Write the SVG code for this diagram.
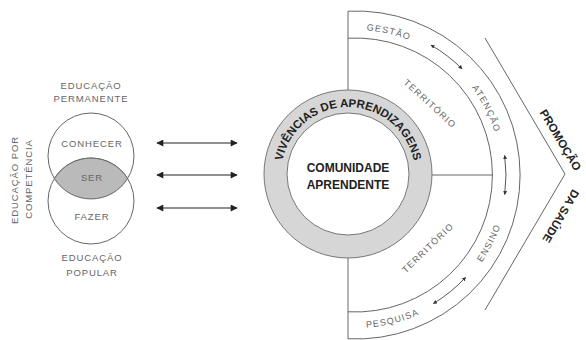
<svg xmlns="http://www.w3.org/2000/svg" width="586" height="340" viewBox="0 0 586 340">
<style>
.lbl{font-family:"Liberation Sans",Arial,sans-serif;font-size:9.5px;fill:#666;letter-spacing:0.9px}
.band{font-family:"Liberation Sans",Arial,sans-serif;font-size:9px;fill:#666;letter-spacing:1.2px}
.bold{font-family:"Liberation Sans",Arial,sans-serif;font-weight:bold;fill:#222}
.ln{fill:none;stroke:#666;stroke-width:1}
.arr{fill:none;stroke:#222;stroke-width:1.2}
.sarr{fill:none;stroke:#444;stroke-width:0.9}
</style>
<defs>
<marker id="ah" viewBox="0 0 10 10" refX="9" refY="5" markerWidth="8" markerHeight="7" markerUnits="userSpaceOnUse" orient="auto-start-reverse"><path d="M0,0 L10,5 L0,10 z" fill="#222"/></marker>
<marker id="sh" viewBox="0 0 10 10" refX="9" refY="5" markerWidth="4" markerHeight="4" markerUnits="userSpaceOnUse" orient="auto-start-reverse"><path d="M0,0 L10,5 L0,10 z" fill="#333"/></marker>
<path id="ringPath" d="M281,174 A67,67 0 0 1 415,174"/>
<path id="topBand" d="M211,175 A145,145 0 0 1 501,175"/>
<path id="botBand" d="M203,175 A153,153 0 0 0 509,175"/>
</defs>
<rect width="586" height="340" fill="#fff"/>

<g id="venn">
<circle cx="91" cy="156" r="43" fill="#fff" stroke="#666" stroke-width="1"/>
<circle cx="91" cy="201" r="43" fill="#fff" stroke="#666" stroke-width="1"/>
<path d="M54.4,178.5 A43,43 0 0 1 127.6,178.5 A43,43 0 0 1 54.4,178.5 z" fill="#bababa" stroke="#666" stroke-width="1"/>
</g>
<g id="labels-left">
<text class="lbl" x="91" y="88.5" text-anchor="middle">EDUCAÇÃO</text>
<text class="lbl" x="91" y="101.5" text-anchor="middle">PERMANENTE</text>
<text class="lbl" x="92" y="146.5" text-anchor="middle">CONHECER</text>
<text class="lbl" x="92" y="181" text-anchor="middle">SER</text>
<text class="lbl" x="92" y="219.5" text-anchor="middle">FAZER</text>
<text class="lbl" x="92" y="260.5" text-anchor="middle">EDUCAÇÃO</text>
<text class="lbl" x="92" y="275.5" text-anchor="middle">POPULAR</text>
<text class="lbl" transform="translate(18,180) rotate(-90)" text-anchor="middle">EDUCAÇÃO POR</text>
<text class="lbl" transform="translate(32,179) rotate(-90)" text-anchor="middle">COMPETÊNCIA</text>
</g>

<g id="outer-frame">
<path class="ln" d="M348,11.2 A164,164 0 1 1 348,338.8"/>
<path class="ln" d="M348,38.2 A137,137 0 1 1 348,311.8"/>
<path class="ln" d="M348,11.2 V90 M348,258 V338.8 M432,175 H493"/>
<polyline points="485,38 565,174 485,310" fill="none" stroke="#555" stroke-width="0.9"/>
</g>

<g id="ring">
<circle cx="348" cy="174" r="84" fill="#d6d6d6" stroke="#777" stroke-width="1"/>
<circle cx="348" cy="174" r="61" fill="#fff" stroke="#777" stroke-width="1"/>
<text class="bold" font-size="11.5"><textPath href="#ringPath" startOffset="50%" text-anchor="middle">VIVÊNCIAS DE APRENDIZAGENS</textPath></text>
<text class="bold" font-size="12" x="348" y="172" text-anchor="middle">COMUNIDADE</text>
<text class="bold" font-size="12" x="348" y="189" text-anchor="middle">APRENDENTE</text>
</g>

<g id="band-labels">
<text class="band"><textPath href="#topBand" startOffset="57.2%" text-anchor="middle">GESTÃO</textPath></text>
<text class="band"><textPath href="#topBand" startOffset="85%" text-anchor="middle">ATENÇÃO</textPath></text>
<text class="band"><textPath href="#botBand" startOffset="85%" text-anchor="middle">ENSINO</textPath></text>
<text class="band"><textPath href="#botBand" startOffset="57.9%" text-anchor="middle">PESQUISA</textPath></text>
<text class="band" letter-spacing="0.9" transform="translate(428,106) rotate(42.5)" text-anchor="middle">TERRITÓRIO</text>
<text class="band" letter-spacing="0.9" transform="translate(430,250) rotate(-44)" text-anchor="middle">TERRITÓRIO</text>
</g>

<g id="promocao">
<text class="bold" font-size="11.5" transform="translate(557,142) rotate(59)" text-anchor="middle">PROMOÇÃO</text>
<text class="bold" font-size="11.5" transform="translate(557.5,214) rotate(121)" text-anchor="middle">DA SAÚDE</text>
</g>

<g id="connectors">
<line class="arr" x1="157" y1="143" x2="237" y2="143" marker-start="url(#ah)" marker-end="url(#ah)"/>
<line class="arr" x1="157" y1="175" x2="237" y2="175" marker-start="url(#ah)" marker-end="url(#ah)"/>
<line class="arr" x1="157" y1="208" x2="237" y2="208" marker-start="url(#ah)" marker-end="url(#ah)"/>
<path class="sarr" d="M431,45.1 A150,150 0 0 1 462.1,68.9" marker-start="url(#sh)" marker-end="url(#sh)"/>
<path class="sarr" d="M504.7,155.4 A150,150 0 0 1 504.7,194.6" marker-start="url(#sh)" marker-end="url(#sh)"/>
<path class="sarr" d="M465.7,277.3 A150,150 0 0 1 433.3,303.6" marker-start="url(#sh)" marker-end="url(#sh)"/>
</g>
</svg>
